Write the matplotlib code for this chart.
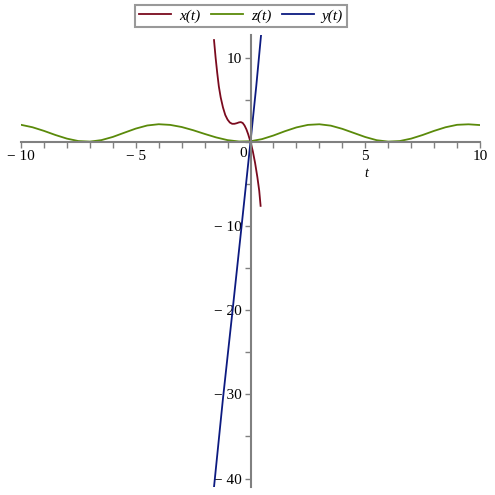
import matplotlib
matplotlib.use("Agg")
import matplotlib.pyplot as plt
from matplotlib.ticker import MultipleLocator, FixedLocator

# values
t_z = [-10, -9.5, -9, -8.5, -8, -7.5, -7, -6.5, -6, -5.5, -5, -4.5, -4,
       -3.5, -3, -2.5, -2, -1.5, -1, -0.5, 0, 0.5, 1, 1.5, 2, 2.5, 3,
       3.5, 4, 4.5, 5, 5.5, 6, 6.5, 7, 7.5, 8, 8.5, 9, 9.5, 10]
z_vals = [2.03, 1.74, 1.31, 0.82, 0.39, 0.10, 0.035, 0.21, 0.59, 1.09, 1.58, 1.95, 2.10,
          2.02, 1.77, 1.39, 0.95, 0.535, 0.21, 0.045, 0.075, 0.33, 0.76, 1.27, 1.72, 2.02, 2.095,
          1.93, 1.55, 1.065, 0.58, 0.20, 0.035, 0.10, 0.39, 0.82, 1.31, 1.74, 2.03, 2.09, 2.0]

t_x = [-1.59, -1.52, -1.45, -1.38, -1.30, -1.20, -1.10, -1.00, -0.90, -0.80, -0.70,
       -0.60, -0.50, -0.42, -0.34, -0.26, -0.18, -0.10, 0, 0.10, 0.20, 0.30, 0.38, 0.44]
x_vals = [12.1, 10.0, 8.2, 6.6, 5.3, 4.1, 3.2, 2.65, 2.3, 2.15, 2.15,
          2.22, 2.32, 2.35, 2.25, 1.95, 1.5, 0.9, 0, -1.1, -2.5, -4.2, -5.8, -7.6]

t_y = [-1.59, -1.20, -0.80, -0.40, 0, 0.25, 0.46]
y_vals = [-41, -30.5, -20.5, -10.3, 0, 6.6, 12.7]

x_ticks = [-10, -5, 5, 10]
y_ticks = [-40, -30, -20, -10, 10]

red = "#7a0a1e"
green = "#5a8a0a"
blue = "#0c1a80"
gray = "#808080"

fig = plt.figure(figsize=(4.95, 4.95), dpi=100)
ax = fig.add_axes([21 / 495, 1 - 487 / 495, 459 / 495, 452 / 495])

ax.plot(t_x, x_vals, color=red, lw=1.3, label="x(t)")
ax.plot(t_z, z_vals, color=green, lw=1.3, label="z(t)")
ax.plot(t_y, y_vals, color=blue, lw=1.3, label="y(t)")

ax.set_xlim(-10, 10)
ax.set_ylim(-41, 12.7)

for s in ["top", "right"]:
    ax.spines[s].set_visible(False)
for s in ["left", "bottom"]:
    ax.spines[s].set_position(("data", 0))
    ax.spines[s].set_color(gray)
    ax.spines[s].set_linewidth(1.5)

serif = "Liberation Serif"
ax.xaxis.set_major_locator(FixedLocator(x_ticks))
ax.xaxis.set_minor_locator(MultipleLocator(1))
ax.set_xticklabels(["\u2212 " + str(-v) if v < 0 else str(v) for v in x_ticks],
                   fontfamily=serif, fontsize=11)
ax.yaxis.set_major_locator(FixedLocator(y_ticks))
ax.yaxis.set_minor_locator(MultipleLocator(5))
ax.set_yticklabels(["\u2212 " + str(-v) if v < 0 else str(v) for v in y_ticks],
                   fontfamily=serif, fontsize=11)
ax.tick_params(which="both", direction="out", color=gray, width=1, length=4, pad=2)

ax.text(-0.33, -0.6, "0", fontfamily=serif, fontsize=11, ha="center", va="top")
ax.text(5.05, -3.8, "t", fontfamily=serif, fontstyle="italic", fontsize=10,
        ha="center", va="center")

leg = fig.legend(loc="center", bbox_to_anchor=(241 / 495, 1 - 16 / 495), ncol=3,
                 frameon=True, fancybox=False, handlelength=2.1, columnspacing=0.7,
                 handletextpad=0.5, borderpad=0.25,
                 prop={"family": serif, "style": "italic", "size": 11})
leg.get_frame().set_edgecolor(gray)
leg.get_frame().set_linewidth(1.5)

fig.savefig("out.png", dpi=100)
